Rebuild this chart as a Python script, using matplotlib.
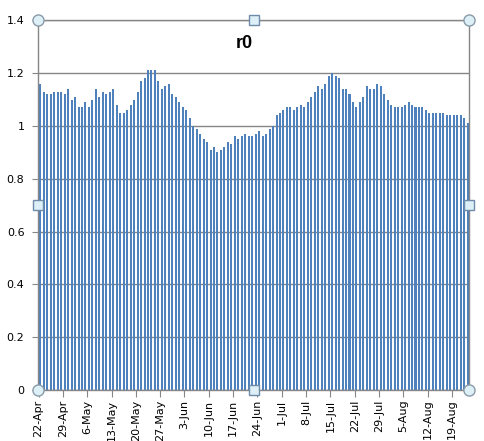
import numpy as np
import matplotlib
matplotlib.use("Agg")
import matplotlib.pyplot as plt

# daily r0 values, 22-Apr .. 23-Aug
r0 = [1.16, 1.13, 1.12, 1.12, 1.13, 1.13, 1.13, 1.12, 1.14, 1.10,
      1.11, 1.07, 1.07, 1.09, 1.07, 1.10, 1.14, 1.11, 1.13, 1.12,
      1.13, 1.14, 1.08, 1.05, 1.05, 1.06, 1.08, 1.10, 1.13, 1.17,
      1.18, 1.21, 1.21, 1.21, 1.17, 1.14, 1.15, 1.16, 1.12, 1.11,
      1.09, 1.07, 1.06, 1.03,
      1.00, 0.99, 0.97, 0.95, 0.94, 0.91, 0.92, 0.90, 0.91, 0.92,
      0.94, 0.93, 0.96, 0.95, 0.96, 0.97, 0.96, 0.96, 0.97, 0.98,
      0.96, 0.97, 0.99, 1.00, 1.04, 1.05, 1.06, 1.07, 1.07, 1.06,
      1.07, 1.08, 1.07, 1.09, 1.11, 1.13, 1.15, 1.14, 1.16, 1.19,
      1.20, 1.19, 1.18, 1.14, 1.14, 1.12, 1.09, 1.07, 1.09, 1.11,
      1.15, 1.14, 1.14, 1.16, 1.15, 1.12, 1.10, 1.08, 1.07, 1.07,
      1.07, 1.08, 1.09, 1.08, 1.07, 1.07, 1.07, 1.06, 1.05, 1.05,
      1.05, 1.05, 1.05, 1.04, 1.04, 1.04, 1.04, 1.04, 1.03, 1.01]

tick_labels = ["22-Apr", "29-Apr", "6-May", "13-May", "20-May", "27-May",
               "3-Jun", "10-Jun", "17-Jun", "24-Jun", "1-Jul", "8-Jul",
               "15-Jul", "22-Jul", "29-Jul", "5-Aug", "12-Aug", "19-Aug"]

W, H = 485, 441
fig = plt.figure(figsize=(W / 100, H / 100), dpi=100)
ax = fig.add_axes([38.3 / W, 1 - 390 / H, (469 - 38.3) / W, (390 - 20.3) / H])

x = np.arange(len(r0))
ax.bar(x, r0, width=0.58, color="#4F81BD", zorder=2)

grid_c = "#868686"
ax.set_ylim(0, 1.4)
ax.set_xlim(-0.58, len(r0) - 0.6)
ax.set_yticks(np.arange(0, 1.41, 0.2))
ax.set_yticklabels(["0", "0.2", "0.4", "0.6", "0.8", "1", "1.2", "1.4"])
ax.yaxis.grid(True, color=grid_c, linewidth=1, zorder=1)
ax.set_xticks(np.arange(len(tick_labels)) * 7 - 0.5)
ax.set_xticklabels(tick_labels, rotation=90, va="top", ha="center")
ax.tick_params(axis="y", length=4, color=grid_c, labelsize=8, pad=6)
ax.tick_params(axis="x", length=5, color=grid_c, labelsize=8, pad=2)
for s in ax.spines.values():
    s.set_color(grid_c)
    s.set_linewidth(1)

fig.text(244 / W, 1 - 43 / H, "r0", ha="center", va="center",
         fontsize=13, fontweight="bold", family="Liberation Sans")

# selection handles (Excel style)
hc = "#DDEFF7"
for px, py in [(0, 0), (1, 0), (0, 1), (1, 1)]:
    ax.plot(px, py, "o", ms=8, mfc=hc, mec="#8A9BA8", mew=1,
            transform=ax.transAxes, clip_on=False, zorder=5)
for px, py in [(0.5, 0), (0.5, 1), (0, 0.5), (1, 0.5)]:
    ax.plot(px, py, "s", ms=6.5, mfc=hc, mec="#6E8BAA", mew=1,
            transform=ax.transAxes, clip_on=False, zorder=5)

fig.savefig("out.png", dpi=100)
